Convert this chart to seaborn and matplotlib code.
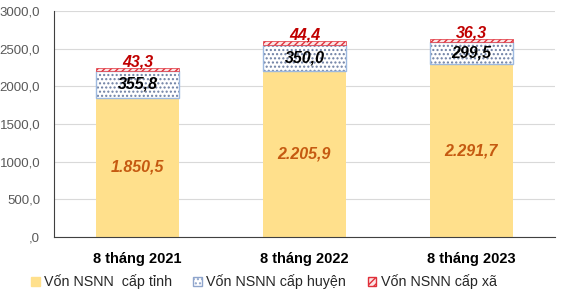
import matplotlib
matplotlib.use("Agg")
import matplotlib.pyplot as plt
import seaborn as sns
import pandas as pd
from matplotlib.patches import Patch

categories = ["8 tháng 2021", "8 tháng 2022", "8 tháng 2023"]
von_tinh = [1850.5, 2205.9, 2291.7]
von_huyen = [355.8, 350.0, 299.5]
von_xa = [43.3, 44.4, 36.3]
series_names = ["Vốn NSNN  cấp tỉnh", "Vốn NSNN cấp huyện", "Vốn NSNN cấp xã"]
y_ticks = [0, 500, 1000, 1500, 2000, 2500, 3000]

sns.set_theme(style="white")
plt.rcParams['font.family'] = ['Liberation Sans', 'DejaVu Sans']
plt.rcParams['hatch.linewidth'] = 1.0

def vn(v, thousands=True):
    s = f"{v:,.1f}" if thousands else f"{v:.1f}"
    s = s.replace(",", "X").replace(".", ",").replace("X", ".")
    if s.startswith("0,"):
        s = s[1:]
    return s

df = pd.DataFrame({"cat": categories, "tinh": von_tinh, "huyen": von_huyen, "xa": von_xa})
df["b2"] = df["tinh"]
df["b3"] = df["tinh"] + df["huyen"]

fig = plt.figure(figsize=(5.71, 2.99), dpi=100)
ax = fig.add_axes([0.0946, 0.207, 0.877, 0.756])

c_tinh = "#FFE08C"
sns.barplot(data=df, x="cat", y="tinh", ax=ax, color=c_tinh, width=0.5,
            saturation=1, edgecolor=c_tinh, linewidth=0)
n = len(ax.patches)
# dotted layer + light blue outline
sns.barplot(data=df, x="cat", y="huyen", ax=ax, color="white", width=0.5,
            saturation=1, bottom=df["b2"], edgecolor="#6D7FA3", linewidth=0)
for p in ax.patches[n:]:
    p.set_hatch("....")
n1 = len(ax.patches)
sns.barplot(data=df, x="cat", y="huyen", ax=ax, color="white", width=0.5,
            saturation=1, bottom=df["b2"], edgecolor="#9DB9E0", linewidth=1.0)
for p in ax.patches[n1:]:
    p.set_facecolor("none")
n2 = len(ax.patches)
sns.barplot(data=df, x="cat", y="xa", ax=ax, color="#FBE4E4", width=0.5,
            saturation=1, bottom=df["b3"], edgecolor="#E0303A", linewidth=0.5)
for p in ax.patches[n2:]:
    p.set_hatch("/////")

for i in range(len(categories)):
    ax.text(i, von_tinh[i] / 2, vn(von_tinh[i]), ha="center", va="center",
            fontsize=11.5, fontweight="bold", fontstyle="italic", color="#C55A11")
    ax.text(i, von_tinh[i] + von_huyen[i] / 2, vn(von_huyen[i]), ha="center", va="center",
            fontsize=11.5, fontweight="bold", fontstyle="italic", color="black")
    top = von_tinh[i] + von_huyen[i] + von_xa[i]
    ax.text(i, top - 20, vn(von_xa[i]), ha="center", va="bottom",
            fontsize=11.5, fontweight="bold", fontstyle="italic", color="#C00000")

ax.set_ylim(0, 3000)
ax.set_xlim(-0.5, 2.5)
ax.set_yticks(y_ticks)
ax.set_yticklabels([vn(v, thousands=False) for v in y_ticks], fontsize=9.5, color="#595959")
ax.set_xticks(range(len(categories)))
ax.set_xticklabels(categories, fontsize=10.5, fontweight="bold", color="black")
ax.tick_params(axis="x", length=0, pad=11)
ax.tick_params(axis="y", length=0, pad=10)
ax.set_xlabel("")
ax.set_ylabel("")
ax.grid(axis="y", color="#D9D9D9", linewidth=0.8)
ax.set_axisbelow(True)
for s in ["top", "right"]:
    ax.spines[s].set_visible(False)
ax.spines["left"].set_color("#404040")
ax.spines["left"].set_linewidth(0.8)
ax.spines["bottom"].set_color("#404040")
ax.spines["bottom"].set_linewidth(0.8)

handles = [
    Patch(facecolor=c_tinh, edgecolor=c_tinh),
    Patch(facecolor="white", edgecolor="#8FA5CC", hatch="...."),
    Patch(facecolor="#FBE4E4", edgecolor="#E0303A", hatch="/////"),
]
fig.legend(handles, series_names, loc="center", bbox_to_anchor=(0.462, 0.057), ncol=3,
           frameon=False, fontsize=10.3, handlelength=0.6, handleheight=0.6,
           handletextpad=0.3, columnspacing=1.5, borderaxespad=0)

fig.savefig("out.png", dpi=100)
